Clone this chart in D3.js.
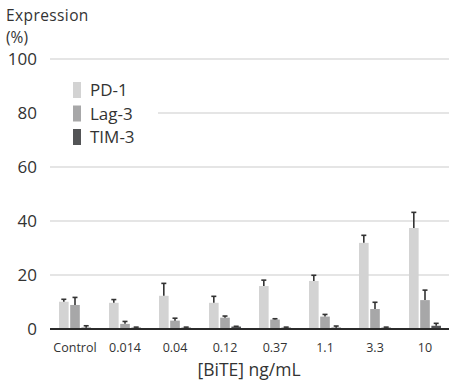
<!DOCTYPE html>
<html>
<head>
<meta charset="utf-8">
<script src="https://cdn.jsdelivr.net/npm/d3@7"></script>
<style>
  body { margin: 0; background: #fff; }
  text { font-family: "Open Sans", Lato, sans-serif; fill: #333; }
</style>
</head>
<body>
<svg id="chart" width="449" height="384"></svg>
<script>
// data
var doses = ["Control", "0.014", "0.04", "0.12", "0.37", "1.1", "3.3", "10"];
var series = ["PD-1", "Lag-3", "TIM-3"];
var pd1 = [10.1, 9.7, 12.3, 9.7, 15.9, 17.8, 31.9, 37.4];
var pd1Err = [0.9, 1.2, 4.6, 2.4, 2.2, 2.1, 2.8, 5.8];
var lag3 = [8.9, 1.9, 3.1, 4.2, 3.5, 4.6, 7.4, 10.7];
var lag3Err = [2.8, 0.9, 0.9, 0.6, 0.3, 0.8, 2.5, 3.7];
var tim3 = [0.5, 0.5, 0.5, 0.9, 0.5, 0.5, 0.5, 1.2];
var tim3Err = [0.7, 0.2, 0.2, 0.1, 0.2, 0.6, 0.2, 0.9];
var yTicks = [0, 20, 40, 60, 80, 100];
var colors = ["#d3d3d3", "#a7a7a8", "#535456"];

var svg = d3.select("#chart");

var x = d3.scaleBand().domain(doses).range([50, 450]);
var xs = d3.scaleBand().domain(series).range([9, 41]).paddingInner(0.14);
var y = d3.scaleLinear().domain([0, 100]).range([329, 59]);

// gridlines
svg.selectAll(".grid")
  .data(yTicks.slice(1))
  .enter().append("line")
  .attr("x1", function(d){ return d == 80 ? 158 : 50; })
  .attr("x2", 449)
  .attr("y1", function(d){ return y(d); })
  .attr("y2", function(d){ return y(d); })
  .style("stroke", "#dcdcdc")
  .style("stroke-width", "1.5px");

// y tick labels
svg.selectAll(".ylab")
  .data(yTicks)
  .enter().append("text")
  .attr("x", 37)
  .attr("y", function(d){ return y(d) + 6; })
  .attr("text-anchor", "end")
  .style("font-size", "17px")
  .text(function(d){ return d; });

svg.append("text").attr("x", 6).attr("y", 21).style("font-size", "15.5px")
  .style("letter-spacing", "0.4px").text("Expression");
svg.append("text").attr("x", 6).attr("y", 42.5).style("font-size", "15.5px").text("(%)");

// bars
var table = doses.map(function(d, i){
  return [
    {dose: d, s: series[0], v: pd1[i], e: pd1Err[i], c: colors[0]},
    {dose: d, s: series[1], v: lag3[i], e: lag3Err[i], c: colors[1]},
    {dose: d, s: series[2], v: tim3[i], e: tim3Err[i], c: colors[2]}
  ];
});

var groups = svg.selectAll(".grp")
  .data(table)
  .enter().append("g")
  .attr("transform", function(d, i){ return "translate(" + x(doses[i]) + ",0)"; });

groups.selectAll("rect")
  .data(function(d){ return d; })
  .enter().append("rect")
  .attr("x", function(d){ return xs(d.s); })
  .attr("width", xs.bandwidth())
  .attr("y", function(d){ return y(d.v); })
  .attr("height", function(d){ return y(0) - y(d.v); })
  .style("fill", function(d){ return d.c; });

// error bars
groups.selectAll(".err")
  .data(function(d){ return d; })
  .enter().append("line")
  .attr("x1", function(d){ return xs(d.s) + xs.bandwidth()/2; })
  .attr("x2", function(d){ return xs(d.s) + xs.bandwidth()/2; })
  .attr("y1", function(d){ return y(d.v); })
  .attr("y2", function(d){ return y(d.v + d.e); })
  .style("stroke", "#333")
  .style("stroke-width", "1.6px");

groups.selectAll(".cap")
  .data(function(d){ return d; })
  .enter().append("line")
  .attr("x1", function(d){ return xs(d.s) + xs.bandwidth()/2 - 2.5; })
  .attr("x2", function(d){ return xs(d.s) + xs.bandwidth()/2 + 2.5; })
  .attr("y1", function(d){ return y(d.v + d.e); })
  .attr("y2", function(d){ return y(d.v + d.e); })
  .style("stroke", "#333")
  .style("stroke-width", "1.6px");

// baseline
svg.append("line")
  .attr("x1", 50).attr("x2", 449)
  .attr("y1", y(0)).attr("y2", y(0))
  .style("stroke", "#2a2a2a")
  .style("stroke-width", "2px");

// x labels
svg.selectAll(".xlab")
  .data(doses)
  .enter().append("text")
  .attr("x", function(d){ return x(d) + x.bandwidth()/2; })
  .attr("y", 352)
  .attr("text-anchor", "middle")
  .style("font-size", "12.5px")
  .text(function(d){ return d; });

svg.append("text")
  .attr("x", 249).attr("y", 376)
  .attr("text-anchor", "middle")
  .style("font-size", "17.5px")
  .text("[BiTE] ng/mL");

// legend
var leg = svg.selectAll(".leg")
  .data(series)
  .enter().append("g")
  .attr("transform", function(d, i){ return "translate(73," + (82 + i*23.5) + ")"; });

leg.append("rect")
  .attr("width", 8).attr("height", 16)
  .style("fill", function(d, i){ return colors[i]; });

leg.append("text")
  .attr("x", 17).attr("y", 14)
  .style("font-size", "17px")
  .text(function(d){ return d; });
</script>
</body>
</html>
